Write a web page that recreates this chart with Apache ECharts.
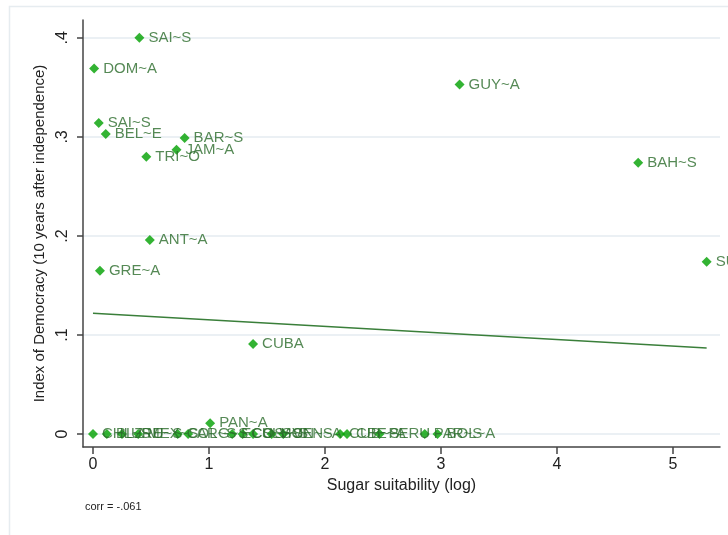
<!DOCTYPE html>
<html>
<head>
<meta charset="utf-8">
<script src="https://cdn.jsdelivr.net/npm/echarts@6/dist/echarts.min.js"></script>
<style>html,body{margin:0;padding:0;background:#fff;}#c{width:728px;height:535px;}</style>
</head>
<body>
<div id="c"></div>
<script>
const names = ["SAI~S","DOM~A","GUY~A","SAI~S","BEL~E","BAR~S","JAM~A","TRI~O","BAH~S","ANT~A","GRE~A","SUR~D","CUBA","PAN~A",
  "CHL~S","BLZ~E","URU~S","MEX~S","COL~S","ARG~S","ECU~S","COS~S","SLV~S","HON~S","VEN~A","CUB~S","CBE~A","PERU","PAR~S","BOL~A"];
const sugar = [0.40,0.01,3.16,0.05,0.11,0.79,0.72,0.46,4.70,0.49,0.06,5.29,1.38,1.01,
  0.00,0.12,0.25,0.39,0.73,0.82,1.20,1.29,1.38,1.54,1.64,2.13,2.19,2.47,2.86,2.97];
const democracy = [0.400,0.369,0.353,0.314,0.303,0.299,0.287,0.280,0.274,0.196,0.165,0.174,0.091,0.011,
  0,0,0,0,0,0,0,0,0,0,0,0,0,0,0,0];
const fitX = [0, 5.29];
const fitY = [0.122, 0.087];
const xTicks = [0,1,2,3,4,5];
const yTicks = [0,0.1,0.2,0.3,0.4];
const yTickLabels = ["0",".1",".2",".3",".4"];

const chart = echarts.init(document.getElementById('c'));
const font = 'Liberation Sans, Arial, sans-serif';
chart.setOption({
  animation:false,
  backgroundColor:'#fff',
  graphic:[
    {type:'rect', shape:{x:9.5,y:6.5,width:760,height:600}, style:{fill:'none',stroke:'#e6ecf0',lineWidth:1.5}, z:-10},
    {type:'text', left:85, top:501, style:{text:'corr = -.061', font:'11px '+font, fill:'#222'}}
  ],
  grid:{left:83, right:8, top:20, bottom:88},
  xAxis:{
    type:'value', min:-0.086, max:5.405,
    name:'Sugar suitability (log)', nameLocation:'middle', nameGap:26,
    nameTextStyle:{fontSize:16, fontFamily:font, color:'#222'},
    axisLine:{show:true, onZero:false, lineStyle:{color:'#444', width:1.5}},
    axisTick:{show:true, length:7, customValues:xTicks, lineStyle:{color:'#444', width:1.5}},
    axisLabel:{customValues:xTicks, fontSize:16, fontFamily:font, color:'#222', margin:10},
    splitLine:{show:false}
  },
  yAxis:{
    type:'value', min:-0.013, max:0.418,
    name:'Index of Democracy (10 years after independence)', nameLocation:'middle', nameGap:36,
    nameTextStyle:{fontSize:15, fontFamily:font, color:'#222'},
    axisLine:{show:true, onZero:false, lineStyle:{color:'#444', width:1.5}},
    axisTick:{show:true, length:6, customValues:yTicks, lineStyle:{color:'#444', width:1.5}},
    axisLabel:{customValues:yTicks, rotate:90, fontSize:16, fontFamily:font, color:'#222', margin:12,
      formatter:function(v){const i=yTicks.findIndex(t=>Math.abs(t-v)<1e-6);return i>=0?yTickLabels[i]:'';}},
    splitLine:{show:false}
  },
  series:[
    {type:'line', silent:true, symbol:'none', data:[], z:0, markLine:{silent:true, z:0, symbol:'none', label:{show:false},
      lineStyle:{color:'#e4ebf0', width:1.5, type:'solid'},
      data:yTicks.map(v=>({yAxis:v}))}},
    {type:'line', symbol:'none', data:fitX.map((x,i)=>[x,fitY[i]]),
      lineStyle:{color:'#3a7f3a', width:1.5}, z:2},
    {type:'scatter', symbol:'diamond', symbolSize:10,
      itemStyle:{color:'#00a000'},
      label:{show:true, position:'right', distance:4, formatter:'{b}', fontSize:15, fontFamily:font, color:'#2b6b2b'},
      data:names.map((n,i)=>({name:n, value:[sugar[i], democracy[i]]})), z:10}
  ]
});
</script>
</body>
</html>
